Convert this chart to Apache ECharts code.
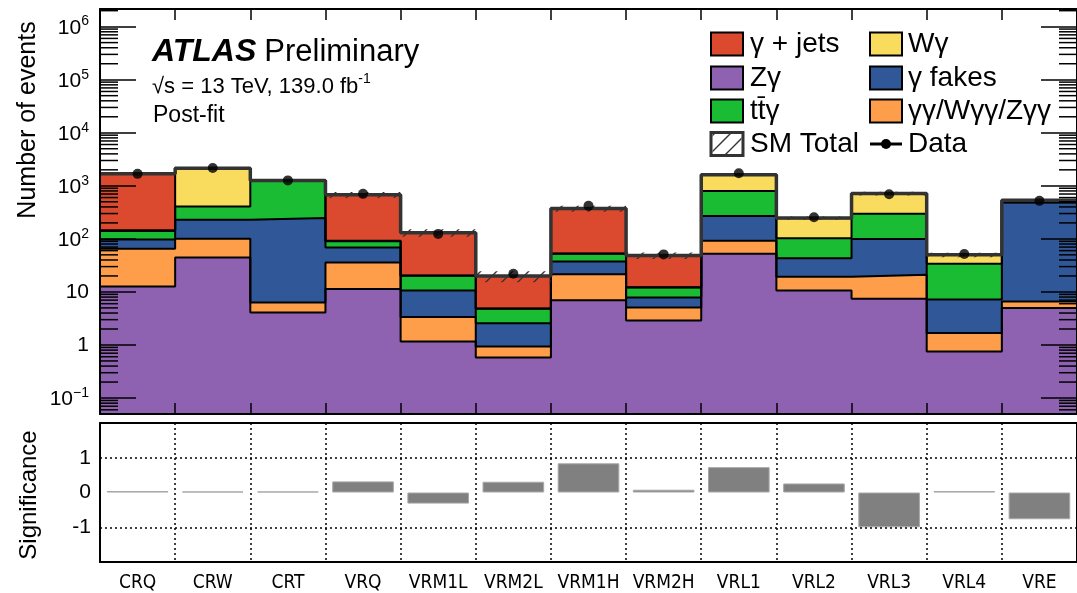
<!DOCTYPE html>
<html>
<head>
<meta charset="utf-8">
<title>Post-fit yields</title>
<script src="https://cdn.jsdelivr.net/npm/echarts@6/dist/echarts.min.js"></script>
<style>
  html, body { margin: 0; padding: 0; background: #ffffff; }
  #chart { width: 1077px; height: 593px; }
</style>
</head>
<body>
<div id="chart"></div>
<script>
// ---- data ---------------------------------------------------------------
const regions = ['CRQ', 'CRW', 'CRT', 'VRQ', 'VRM1L', 'VRM2L', 'VRM1H', 'VRM2H', 'VRL1', 'VRL2', 'VRL3', 'VRL4', 'VRE'];

// post-fit background yields per region (stacked bottom to top)
const zGamma     = [12.6, 44.5, 4.1, 11.4, 1.16, 0.58, 7.0, 2.9, 52.2, 10.6, 7.4, 0.755, 4.96];
const diphoton   = [52.4, 55.5, 2.2, 24.4, 2.19, 0.36, 14.6, 2.2, 39.6, 8.7, 13.6, 0.925, 1.64];
const gammaFakes = [32, 128, 240, 32.8, 7.25, 1.64, 15.8, 2.75, 179, 24, 78, 5.52, 476];
const ttGamma    = [43, 178, 999, 21.9, 9.5, 2.22, 14.8, 4.25, 531, 59.7, 197, 26.6, 7];
const wGamma     = [5, 1734, 5, 1.5, 0.2, 0.05, 0.8, 0.2, 798, 142, 416, 15.7, 5];
const gammaJets  = [1535, 10, 10, 583, 110, 15, 319, 36.2, 10, 2, 0.5, 0.5, 41];

// relative uncertainty on the SM total
const totalUnc = [0.04, 0.03, 0.04, 0.13, 0.16, 0.23, 0.13, 0.14, 0.05, 0.07, 0.08, 0.10, 0.05];

// observed events
const observed = [1680, 2170, 1265, 705, 124, 22, 419, 51, 1730, 256, 692, 52, 520];

// (data - SM) significance per region
const significance = [0.04, 0.03, 0.03, 0.32, -0.32, 0.31, 0.84, 0.08, 0.73, 0.26, -1.0, 0.04, -0.77];

const layerNames  = ['Z\u03b3', '\u03b3\u03b3/W\u03b3\u03b3/Z\u03b3\u03b3', '\u03b3 fakes', 'tt\u0304\u03b3', 'W\u03b3', '\u03b3 + jets'];
const layerColors = ['#8e61b1', '#ff9e4a', '#305898', '#1abc34', '#f9dc5e', '#db4a2e'];
const layers = [zGamma, diphoton, gammaFakes, ttGamma, wGamma, gammaJets];

const yMin = 0.05, yMax = 2.15e6;

// ---- helpers ------------------------------------------------------------
const cumulative = [];
layers.forEach((arr, k) => {
  cumulative.push(arr.map((v, i) => v + (k > 0 ? cumulative[k - 1][i] : 0)));
});
const total = cumulative[cumulative.length - 1];

function stepPoints(vals) {
  const pts = vals.map((v, i) => [i, v]);
  pts.push([vals.length, vals[vals.length - 1]]);
  return pts;
}

// diagonal hatch used for the uncertainty band
function makeHatch() {
  const s = 16;
  const c = document.createElement('canvas');
  c.width = s; c.height = s;
  const g = c.getContext('2d');
  g.strokeStyle = '#333333';
  g.lineWidth = 1.4;
  g.beginPath();
  g.moveTo(0, s); g.lineTo(s, 0);
  g.moveTo(-2, 2); g.lineTo(2, -2);
  g.moveTo(s - 2, s + 2); g.lineTo(s + 2, s - 2);
  g.stroke();
  return c;
}
const hatch = { image: makeHatch(), repeat: 'repeat' };

const FONT = "'Liberation Sans', Arial, Helvetica, sans-serif";

function logLabel(v) {
  const l = Math.log10(v);
  const e = Math.round(l);
  if (Math.abs(l - e) > 1e-6) return '';
  if (e === 0) return '1';
  if (e === 1) return '10';
  return '{b|10}{s|' + (e < 0 ? '\u2212' : '') + Math.abs(e) + '}';
}

const frameLine = { show: true, onZero: false, lineStyle: { color: '#000', width: 2 } };

// ---- chart ----------------------------------------------------------------
const chart = echarts.init(document.getElementById('chart'), null, { renderer: 'canvas' });

const stackSeries = [];
for (let k = layers.length - 1; k >= 0; k--) {
  stackSeries.push({
    name: layerNames[k],
    type: 'line',
    xAxisIndex: 0, yAxisIndex: 0,
    step: 'end',
    data: stepPoints(cumulative[k]),
    symbol: 'none',
    lineStyle: { color: '#000', width: 2 },
    areaStyle: { color: layerColors[k], opacity: 1, origin: 'start' },
    silent: true,
    z: 2
  });
}

const legendText = { fontSize: 28, fontFamily: FONT, fill: '#000', verticalAlign: 'middle' };

const option = {
  animation: false,
  backgroundColor: '#ffffff',
  grid: [
    { left: 100, top: 9, width: 984, height: 405 },
    { left: 100, top: 423, width: 984, height: 144 }
  ],
  xAxis: [
    { gridIndex: 0, type: 'value', min: 0, max: 13, interval: 1, position: 'bottom',
      axisLine: frameLine, axisTick: { inside: true, length: 11, lineStyle: { color: '#000', width: 1.5 } },
      axisLabel: { show: false }, splitLine: { show: false }, z: 10 },
    { gridIndex: 0, type: 'value', min: 0, max: 13, interval: 1, position: 'top',
      axisLine: frameLine, axisTick: { inside: true, length: 11, lineStyle: { color: '#000', width: 1.5 } },
      axisLabel: { show: false }, splitLine: { show: false }, z: 10 },
    { gridIndex: 1, type: 'category', data: regions, boundaryGap: true, position: 'bottom',
      axisLine: frameLine, axisTick: { show: false },
      axisLabel: { interval: 0, margin: 12, color: '#000', fontSize: 19,
        fontFamily: "'DejaVu Sans Condensed', 'Liberation Sans Narrow', 'Liberation Sans', sans-serif" },
      splitLine: { show: true, interval: 0, lineStyle: { color: '#000', width: 1.5, type: [2, 3] } }, z: 10 },
    { gridIndex: 1, type: 'value', min: 0, max: 13, position: 'top',
      axisLine: frameLine, axisTick: { show: false }, axisLabel: { show: false }, splitLine: { show: false }, z: 10 }
  ],
  yAxis: [
    { gridIndex: 0, type: 'log', logBase: 10, min: yMin, max: yMax, position: 'left',
      axisLine: frameLine, axisTick: { inside: true, length: 36, lineStyle: { color: '#000', width: 1.5 } },
      axisLabel: { formatter: logLabel, color: '#000', fontSize: 21, fontFamily: FONT, margin: 11,
        rich: {
          b: { fontSize: 21, fontFamily: FONT, color: '#000', lineHeight: 24, verticalAlign: 'bottom' },
          s: { fontSize: 14, fontFamily: FONT, color: '#000', lineHeight: 14, verticalAlign: 'top' }
        } },
      splitLine: { show: false }, z: 10 },
    { gridIndex: 0, type: 'log', logBase: 10, min: yMin, max: yMax, position: 'right',
      axisLine: frameLine, axisTick: { inside: true, length: 36, lineStyle: { color: '#000', width: 1.5 } },
      axisLabel: { show: false }, splitLine: { show: false }, z: 10 },
    { gridIndex: 1, type: 'value', min: -2, max: 2, interval: 1, position: 'left',
      axisLine: frameLine, axisTick: { show: false },
      axisLabel: { color: '#000', fontSize: 21, fontFamily: FONT, margin: 9,
        formatter: v => (Math.abs(v) > 1.5 ? '' : (v < 0 ? '-' : '') + Math.abs(v)) },
      splitLine: { show: false }, z: 10 },
    { gridIndex: 1, type: 'value', min: -2, max: 2, interval: 1, position: 'right',
      axisLine: frameLine, axisTick: { show: false }, axisLabel: { show: false }, splitLine: { show: false }, z: 10 }
  ],
  series: stackSeries.concat([
    {
      name: 'SM Total uncertainty',
      type: 'custom',
      xAxisIndex: 0, yAxisIndex: 0,
      dimensions: ['bin', 'lo', 'hi'],
      encode: { x: 0, y: [1, 2] },
      data: total.map((t, i) => [i, t * (1 - totalUnc[i]), t * (1 + totalUnc[i])]),
      renderItem: function (params, api) {
        const i = api.value(0);
        const p1 = api.coord([i, api.value(2)]);
        const p2 = api.coord([i + 1, api.value(1)]);
        return { type: 'rect', shape: { x: p1[0], y: p1[1], width: p2[0] - p1[0], height: p2[1] - p1[1] },
                 style: { fill: hatch } };
      },
      silent: true,
      z: 3
    },
    {
      name: 'SM Total',
      type: 'line',
      xAxisIndex: 0, yAxisIndex: 0,
      step: 'end',
      data: stepPoints(total),
      symbol: 'none',
      lineStyle: { color: '#333333', width: 3.5 },
      silent: true,
      z: 4
    },
    {
      name: 'minor ticks',
      type: 'custom',
      xAxisIndex: 0, yAxisIndex: 0,
      data: [[0, 1]],
      clip: false,
      silent: true,
      z: 11,
      renderItem: function (params, api) {
        const children = [];
        const xl = api.coord([0, 1])[0];
        const xr = api.coord([13, 1])[0];
        for (let e = -2; e <= 6; e++) {
          for (let k = 2; k <= 9; k++) {
            const v = k * Math.pow(10, e);
            if (v <= yMin || v >= yMax) continue;
            const y = api.coord([0, v])[1];
            children.push({ type: 'line', shape: { x1: xl, y1: y, x2: xl + 18, y2: y }, style: { stroke: '#000', lineWidth: 1.5 } });
            children.push({ type: 'line', shape: { x1: xr, y1: y, x2: xr - 18, y2: y }, style: { stroke: '#000', lineWidth: 1.5 } });
          }
        }
        return { type: 'group', children: children };
      }
    },
    {
      name: 'Data',
      type: 'scatter',
      xAxisIndex: 0, yAxisIndex: 0,
      data: observed.map((v, i) => [i + 0.5, v]),
      symbol: 'circle',
      symbolSize: 10,
      itemStyle: { color: '#000' },
      silent: true,
      z: 6
    },
    {
      name: 'Significance',
      type: 'bar',
      xAxisIndex: 2, yAxisIndex: 2,
      data: significance,
      barWidth: '82%',
      itemStyle: { color: '#808080', borderColor: '#a8a8a8', borderWidth: 1 },
      silent: true,
      markLine: {
        silent: true,
        symbol: ['none', 'none'],
        label: { show: false },
        lineStyle: { color: '#000', width: 1.5, type: [2, 3] },
        data: [{ yAxis: 1 }, { yAxis: -1 }]
      },
      z: 2
    }
  ]),
  graphic: [
    // axis titles
    { type: 'text', x: 28, y: 120, rotation: Math.PI / 2, z: 20,
      style: { text: 'Number of events', fontSize: 25, fontFamily: FONT, fill: '#000', align: 'center', verticalAlign: 'middle' } },
    { type: 'text', x: 29, y: 495, rotation: Math.PI / 2, z: 20,
      style: { text: 'Significance', fontSize: 24, fontFamily: FONT, fill: '#000', align: 'center', verticalAlign: 'middle' } },
    // labels
    { type: 'text', x: 152, y: 52, z: 20,
      style: { text: '{a|ATLAS}{p|Preliminary}', verticalAlign: 'middle', align: 'left',
        rich: { a: { fontSize: 32, fontStyle: 'italic', fontWeight: 'bold', fontFamily: FONT, fill: '#000', padding: [0, 8, 0, 0] },
                p: { fontSize: 31, fontFamily: FONT, fill: '#000' } } } },
    { type: 'text', x: 152, y: 85, z: 20,
      style: { text: '{n|\u221as = 13 TeV, 139.0 fb}{s|-1}', verticalAlign: 'middle', align: 'left',
        rich: { n: { fontSize: 22, fontFamily: FONT, fill: '#000', lineHeight: 25, verticalAlign: 'bottom' },
                s: { fontSize: 14, fontFamily: FONT, fill: '#000', lineHeight: 14, verticalAlign: 'top' } } } },
    { type: 'text', x: 153, y: 116, z: 20,
      style: { text: 'Post-fit', fontSize: 23, fontFamily: FONT, fill: '#000', verticalAlign: 'middle', align: 'left' } },
    // legend: left column
    { type: 'rect', z: 20, shape: { x: 711, y: 32.5, width: 32, height: 23 }, style: { fill: layerColors[5], stroke: '#000', lineWidth: 2 } },
    { type: 'rect', z: 20, shape: { x: 711, y: 66.5, width: 32, height: 23 }, style: { fill: layerColors[0], stroke: '#000', lineWidth: 2 } },
    { type: 'rect', z: 20, shape: { x: 711, y: 99.5, width: 32, height: 23 }, style: { fill: layerColors[3], stroke: '#000', lineWidth: 2 } },
    { type: 'rect', z: 20, shape: { x: 711, y: 132.5, width: 32, height: 23 }, style: { fill: '#ffffff', stroke: '#333333', lineWidth: 3 } },
    { type: 'rect', z: 21, shape: { x: 712.5, y: 134, width: 29, height: 20 }, style: { fill: hatch } },
    { type: 'text', x: 750, y: 44, z: 20, style: Object.assign({ text: layerNames[5] }, legendText) },
    { type: 'text', x: 750, y: 78, z: 20, style: Object.assign({ text: layerNames[0] }, legendText) },
    { type: 'text', x: 750, y: 111, z: 20, style: Object.assign({ text: layerNames[3] }, legendText) },
    { type: 'text', x: 750, y: 144, z: 20, style: Object.assign({ text: 'SM Total' }, legendText) },
    // legend: right column
    { type: 'rect', z: 20, shape: { x: 870, y: 32.5, width: 32, height: 23 }, style: { fill: layerColors[4], stroke: '#000', lineWidth: 2 } },
    { type: 'rect', z: 20, shape: { x: 870, y: 66.5, width: 32, height: 23 }, style: { fill: layerColors[2], stroke: '#000', lineWidth: 2 } },
    { type: 'rect', z: 20, shape: { x: 870, y: 99.5, width: 32, height: 23 }, style: { fill: layerColors[1], stroke: '#000', lineWidth: 2 } },
    { type: 'line', z: 20, shape: { x1: 870, y1: 144, x2: 902, y2: 144 }, style: { stroke: '#000', lineWidth: 3 } },
    { type: 'circle', z: 21, shape: { cx: 886, cy: 144, r: 5 }, style: { fill: '#000' } },
    { type: 'text', x: 908, y: 44, z: 20, style: Object.assign({ text: layerNames[4] }, legendText) },
    { type: 'text', x: 908, y: 78, z: 20, style: Object.assign({ text: layerNames[2] }, legendText) },
    { type: 'text', x: 908, y: 111, z: 20, style: Object.assign({ text: layerNames[1] }, legendText) },
    { type: 'text', x: 908, y: 144, z: 20, style: Object.assign({ text: 'Data' }, legendText) }
  ]
};

chart.setOption(option);
</script>
</body>
</html>
